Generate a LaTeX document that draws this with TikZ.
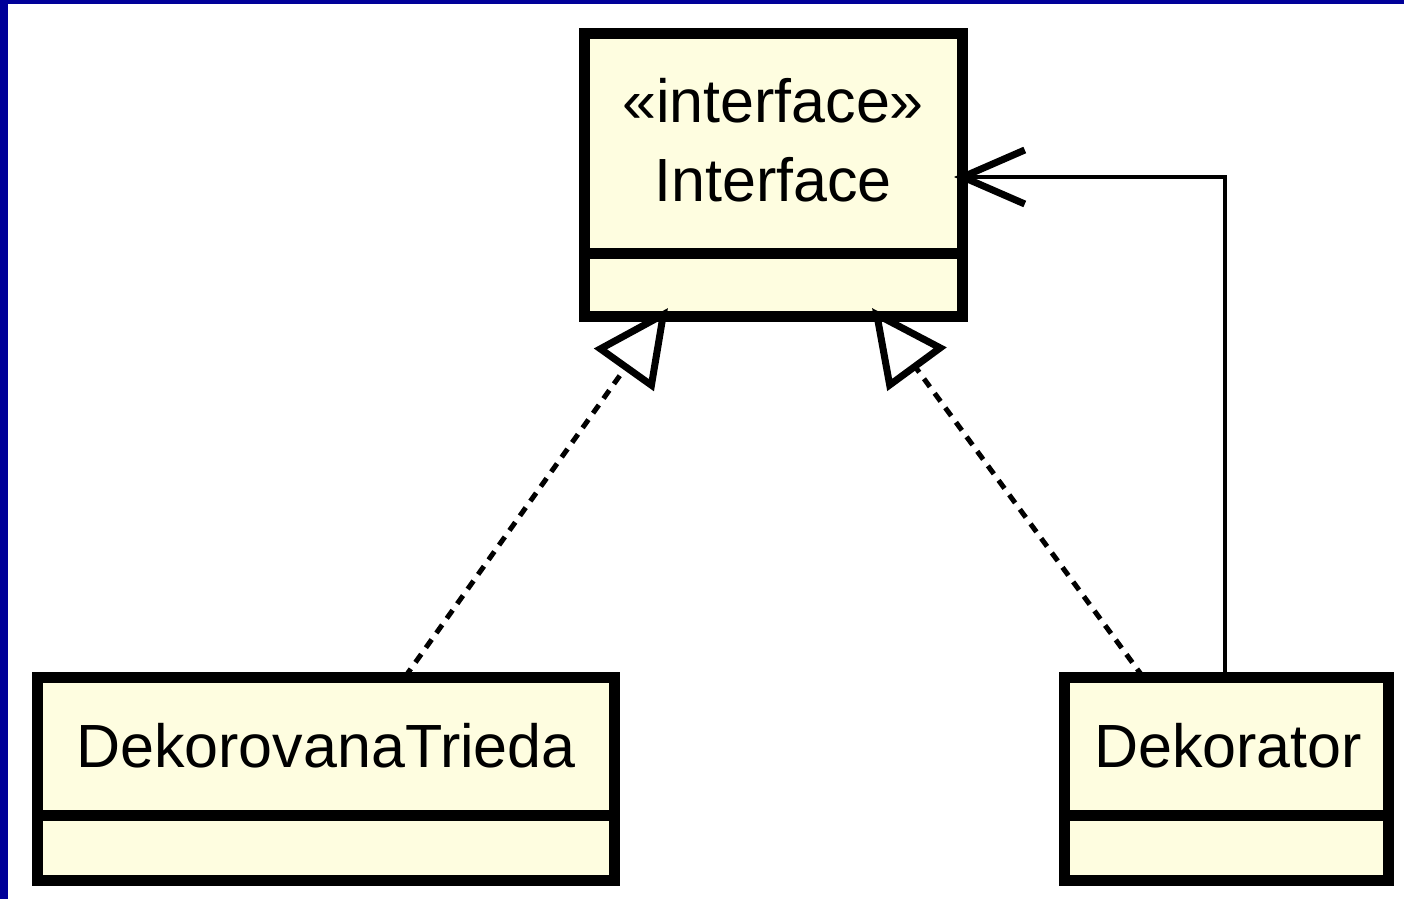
\documentclass[tikz,border=0pt]{standalone}
\usepackage{fontspec}
\setmainfont{Liberation Sans}
\usetikzlibrary{arrows.meta,calc}

\definecolor{classfill}{RGB}{254,253,224}
\definecolor{frameblue}{RGB}{0,0,153}

\tikzset{
  cls/.style={draw=black, fill=classfill, line width=5.5pt, rectangle,
              inner sep=0pt, outer sep=0pt},
  divider/.style={draw=black, line width=5.5pt},
  label/.style={font=\fontsize{30.5}{36}\selectfont, anchor=base, inner sep=0pt},
  realize/.style={line width=2.5pt, dash pattern=on 5pt off 4pt,
     -{Triangle[open, length=38pt, width=36pt, line width=3.5pt]}},
  assoc/.style={line width=2pt,
     -{Straight Barb[length=31pt, width=27pt, line width=3.5pt]}},
}

\begin{document}
\begin{tikzpicture}[x=0.5pt, y=-0.5pt]
  \useasboundingbox (0,0) rectangle (1404,899);
  \fill[white] (0,0) rectangle (1404,899);
  % window frame
  \fill[frameblue] (0,0) rectangle (7.5,899);
  \fill[frameblue] (0,0) rectangle (1404,4);

  % class boxes
  \node[cls, minimum width=189pt, minimum height=141pt] (iface) at (773,175) {};
  \node[cls, minimum width=288.25pt, minimum height=101.5pt] (dt) at (325.75,778.5) {};
  \node[cls, minimum width=162pt, minimum height=101.5pt] (dek) at (1226,778.5) {};

  % compartment dividers
  \draw[divider] (iface.west |- 0,253) -- (iface.east |- 0,253);
  \draw[divider] (dt.west |- 0,815) -- (dt.east |- 0,815);
  \draw[divider] (dek.west |- 0,815) -- (dek.east |- 0,815);

  % names
  \node[label] (iface-st) at (773,123) {«interface»};
  \node[label] (iface-nm) at (773,202) {Interface};
  \node[label] (dt-nm) at (326,767) {DekorovanaTrieda};
  \node[label] (dek-nm) at (1228,767) {Dekorator};

  % realizations
  \draw[realize] ($(dt.north west)+(367.5,0)$) -- ($(iface.south west)+(84,-8)$);
  \draw[realize] ($(dek.north west)+(79,0)$) -- ($(iface.south west)+(288,-8)$);

  % association
  \coordinate (bend) at (1225,177);
  \draw[assoc, line join=miter] (dek.north -| bend) -- (bend) -- ($(iface.east |- bend)+(-8,0)$);
\end{tikzpicture}
\end{document}
